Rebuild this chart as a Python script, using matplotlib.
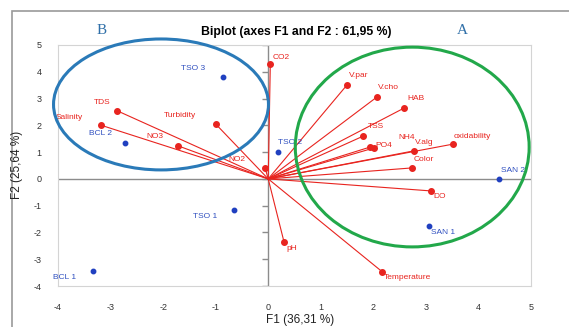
import matplotlib.pyplot as plt
from matplotlib.patches import Ellipse, Rectangle

plt.rcParams['font.family'] = ['Liberation Sans', 'DejaVu Sans']
plt.rcParams['axes.unicode_minus'] = False

# variables (red vectors)
var_names = ["CO2", "TDS", "Salinity", "Turbidity", "NO3", "NO2", "pH", "Temperature",
             "DO", "Color", "oxidability", "V.alg", "NH4", "PO4", "TSS", "HAB", "V.cho", "V.par"]
var_f1 = [0.04, -2.87, -3.19, -1.00, -1.71, -0.06, 0.30, 2.17,
          3.10, 2.74, 3.52, 2.78, 2.02, 1.94, 1.81, 2.59, 2.07, 1.50]
var_f2 = [4.29, 2.54, 2.01, 2.05, 1.23, 0.41, -2.35, -3.47,
          -0.45, 0.41, 1.30, 1.05, 1.16, 1.19, 1.60, 2.65, 3.06, 3.51]
# label offsets in pixels (dx, dy, align)
var_off = [(2, 7, 'left'), (-7, 8, 'right'), (-18, 8, 'right'), (-20, 8, 'right'),
           (-15, 9, 'right'), (-20, 8, 'right'), (2, -7, 'left'), (2, -6, 'left'),
           (2, -6, 'left'), (1, 8, 'left'), (0, 8, 'left'), (1, 8, 'left'),
           (24, 10, 'left'), (5, 2, 'left'), (5, 10, 'left'), (3, 9, 'left'),
           (1, 9, 'left'), (2, 9, 'left')]

# observations (blue points)
obs_names = ["TSO 3", "BCL 2", "TSO 2", "TSO 1", "BCL 1", "SAN 2", "SAN 1"]
obs_f1 = [-0.86, -2.72, 0.19, -0.66, -3.33, 4.39, 3.06]
obs_f2 = [3.80, 1.34, 1.00, -1.16, -3.43, 0.00, -1.75]
obs_off = [(-18, 9, 'right'), (-13, 10, 'right'), (0, 10, 'left'), (-16, -7, 'right'),
           (-17, -7, 'right'), (2, 8, 'left'), (2, -7, 'left')]

xticks = [-4, -3, -2, -1, 0, 1, 2, 3, 4, 5]
yticks = [-4, -3, -2, -1, 0, 1, 2, 3, 4, 5]

red = '#e8241f'
blue = '#2040c0'

fig = plt.figure(figsize=(5.69, 3.27), dpi=100)
fig.patches.append(Rectangle((12 / 569, -0.05), 1.0, 1 - 11 / 327 + 0.05,
                             transform=fig.transFigure, fill=False,
                             edgecolor='#9a9a9a', lw=1.2))
ax = fig.add_axes([58 / 569, 41 / 327, 473 / 569, 241 / 327])
ax.set_xlim(-4, 5)
ax.set_ylim(-4, 5)

for s in ax.spines.values():
    s.set_color('#d4d4d4')
    s.set_linewidth(0.8)
ax.axhline(0, color='#8c8c8c', lw=1.0, zorder=1)
ax.axvline(0, color='#8c8c8c', lw=1.0, zorder=1)
ax.plot([0] * len(yticks), yticks, ls='none', marker=0, ms=4, color='#8c8c8c', zorder=1)

ax.set_xticks(xticks)
ax.set_yticks(yticks)
ax.tick_params(length=0, labelsize=6.5, colors='#333333')
ax.tick_params(axis='x', pad=12)
ax.tick_params(axis='y', pad=12)

for i in range(len(var_names)):
    ax.plot([0, var_f1[i]], [0, var_f2[i]], color=red, lw=0.8, zorder=2)
    ax.plot(var_f1[i], var_f2[i], 'o', color=red, ms=4, zorder=3)
    dx, dy, ha = var_off[i]
    ax.annotate(var_names[i], (var_f1[i], var_f2[i]), xytext=(dx, dy),
                textcoords='offset pixels', ha=ha, va='center', fontsize=6, color=red)

ax.plot(obs_f1, obs_f2, 'o', color=blue, ms=3.2, ls='none', zorder=3)
for i in range(len(obs_names)):
    dx, dy, ha = obs_off[i]
    ax.annotate(obs_names[i], (obs_f1[i], obs_f2[i]), xytext=(dx, dy),
                textcoords='offset pixels', ha=ha, va='center', fontsize=6, color='#3050c0')

ax.add_patch(Ellipse((-2.04, 2.78), 4.09, 4.89, fill=False, edgecolor='#2a7ab8',
                     lw=2.2, clip_on=False, zorder=4))
ax.add_patch(Ellipse((2.74, 1.19), 4.45, 7.46, fill=False, edgecolor='#22a84a',
                     lw=2.2, clip_on=False, zorder=4))

fig.text(296 / 569, 1 - 32 / 327, 'Biplot (axes F1 and F2 : 61,95 %)', ha='center',
         va='center', fontsize=8.8, fontweight='bold')
fig.text(102 / 569, 1 - 30 / 327, 'B', ha='center', va='center', fontsize=11,
         family='Liberation Serif', color='#2f6fa8')
fig.text(462 / 569, 1 - 30 / 327, 'A', ha='center', va='center', fontsize=11,
         family='Liberation Serif', color='#2f6fa8')
fig.text(300 / 569, 1 - 320 / 327, 'F1 (36,31 %)', ha='center', va='center', fontsize=8.5,
         color='#222222')
fig.text(17 / 569, 1 - 165 / 327, 'F2 (25,64 %)', ha='center', va='center', fontsize=8.5,
         rotation=90, color='#222222')

fig.savefig('out.png', dpi=100)
